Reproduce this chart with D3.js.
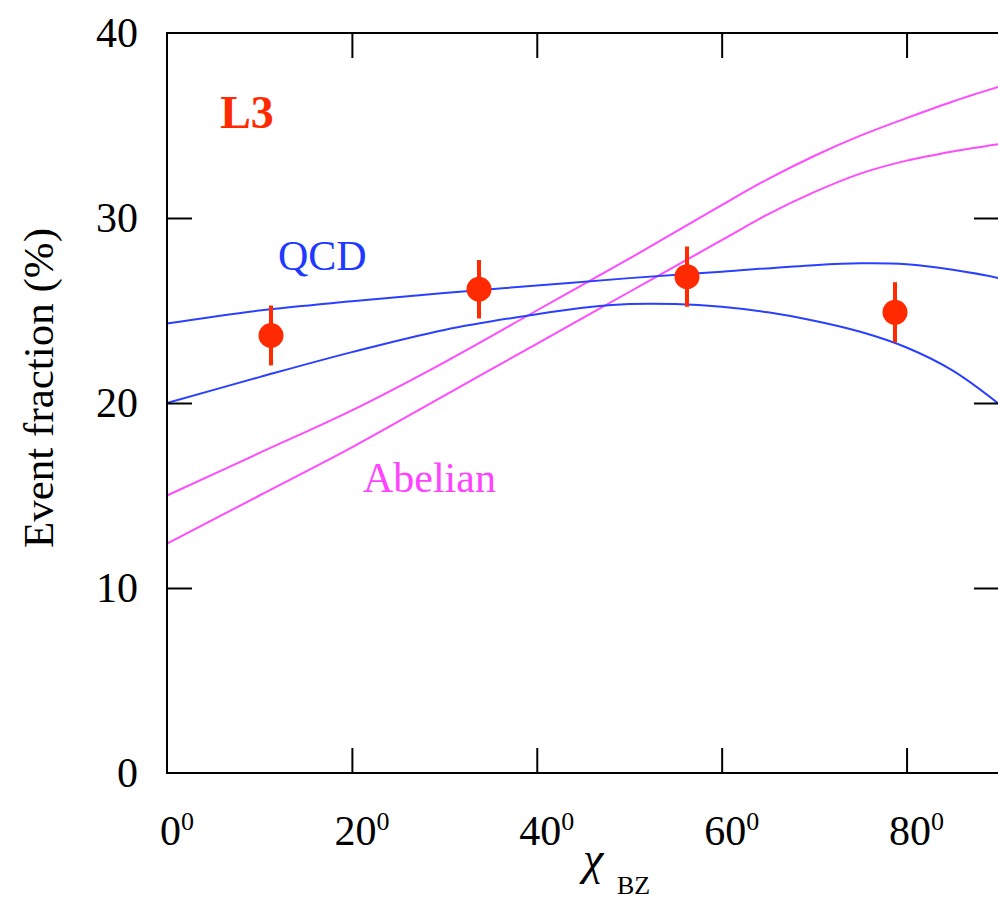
<!DOCTYPE html>
<html>
<head>
<meta charset="utf-8">
<script src="https://cdn.jsdelivr.net/npm/d3@7"></script>
<style>
  html, body { margin: 0; padding: 0; background: #fff; }
  svg { display: block; }
  text { font-family: "Liberation Serif", "Times New Roman", serif; }
</style>
</head>
<body>
<svg id="chart" width="998" height="902"></svg>
<script>
// ---- data ----
const xTicks = [0, 20, 40, 60, 80];
const yTicks = [0, 10, 20, 30, 40];

const dataX   = [11.25, 33.75, 56.25, 78.75];
const dataY   = [23.65, 26.15, 26.83, 24.9];
const dataErr = [1.62, 1.58, 1.63, 1.63];

const qcdUpperX = [0, 10, 20, 30, 40, 50, 60, 70, 75, 80, 85, 90];
const qcdUpperY = [24.3, 25.0, 25.5, 25.95, 26.35, 26.75, 27.1, 27.45, 27.55, 27.5, 27.2, 26.75];

const qcdLowerX = [0, 10, 20, 30, 40, 46, 50, 55, 60, 65, 70, 75, 80, 85, 90];
const qcdLowerY = [20.0, 21.4, 22.75, 23.95, 24.8, 25.2, 25.35, 25.35, 25.2, 24.9, 24.45, 23.85, 23.0, 21.75, 19.95];

const abelUpperX = [0, 10, 20, 30, 40, 50, 60, 65, 70, 75, 80, 85, 90];
const abelUpperY = [15.0, 17.3, 19.6, 22.2, 25.0, 27.8, 30.7, 32.1, 33.35, 34.45, 35.4, 36.3, 37.1];

const abelLowerX = [0, 10, 20, 30, 40, 50, 60, 65, 70, 75, 80, 85, 90];
const abelLowerY = [12.4, 15.0, 17.6, 20.4, 23.2, 26.0, 28.8, 30.2, 31.4, 32.4, 33.1, 33.6, 34.0];

const labels = [
  { text: "L3",      x: 5.75,  y: 34.85, color: "#ff2a00", bold: true,  size: 46 },
  { text: "QCD",     x: 12.0,  y: 27.2,  color: "#2038ff", bold: false, size: 42 },
  { text: "Abelian", x: 21.2,  y: 15.2,  color: "#ff44ff", bold: false, size: 42 }
];

// ---- layout ----
const svg = d3.select("#chart");
const mLeft = 167, mRight = 999, mTop = 33, mBottom = 773;

const x = d3.scaleLinear().domain([0, 90]).range([mLeft, mRight]);
const y = d3.scaleLinear().domain([0, 40]).range([mBottom, mTop]);

// curves
const line = d3.line().x(d => x(d[0])).y(d => y(d[1])).curve(d3.curveCatmullRom.alpha(0.5));
const curves = [
  { xs: abelUpperX, ys: abelUpperY, color: "#ff4cff" },
  { xs: abelLowerX, ys: abelLowerY, color: "#ff4cff" },
  { xs: qcdUpperX,  ys: qcdUpperY,  color: "#2a40ff" },
  { xs: qcdLowerX,  ys: qcdLowerY,  color: "#2a40ff" }
];
curves.forEach(c => {
  svg.append("path")
    .datum(c.xs.map((v, i) => [v, c.ys[i]]))
    .attr("d", line)
    .attr("fill", "none")
    .attr("stroke", c.color)
    .attr("stroke-width", 2);
});

// data points with error bars
const pts = dataX.map((v, i) => ({ x: v, y: dataY[i], e: dataErr[i] }));
const g = svg.append("g");
g.selectAll("line.err").data(pts).enter().append("line")
  .attr("x1", d => x(d.x)).attr("x2", d => x(d.x))
  .attr("y1", d => y(d.y - d.e)).attr("y2", d => y(d.y + d.e))
  .attr("stroke", "#ff2a00").attr("stroke-width", 4);
g.selectAll("circle").data(pts).enter().append("circle")
  .attr("cx", d => x(d.x)).attr("cy", d => y(d.y)).attr("r", 12.5)
  .attr("fill", "#ff2a00");

// axes (inward ticks)
const axB = svg.append("g").attr("transform", `translate(0,${mBottom})`)
  .call(d3.axisBottom(x).tickValues(xTicks.slice(1)).tickSizeInner(-25).tickSizeOuter(0).tickFormat(""));
const axT = svg.append("g").attr("transform", `translate(0,${mTop})`)
  .call(d3.axisTop(x).tickValues(xTicks.slice(1)).tickSizeInner(-25).tickSizeOuter(0).tickFormat(""));
const axL = svg.append("g").attr("transform", `translate(${mLeft},0)`)
  .call(d3.axisLeft(y).tickValues(yTicks).tickSizeInner(-25).tickSizeOuter(0).tickPadding(29));
const axR = svg.append("g").attr("transform", `translate(${mRight},0)`)
  .call(d3.axisRight(y).tickValues(yTicks.slice(1, 4)).tickSizeInner(-25).tickSizeOuter(0).tickFormat(""));

[axB, axT, axL, axR].forEach(a => {
  a.select(".domain").remove();
  a.selectAll(".tick line").attr("stroke", "#000").attr("stroke-width", 2);
});
axL.selectAll(".tick line").filter(d => d === 0 || d === 40).remove();
axL.selectAll(".tick text")
  .attr("font-family", "Liberation Serif, Times New Roman, serif")
  .attr("font-size", 42).attr("fill", "#000");

// frame
svg.append("rect")
  .attr("x", mLeft).attr("y", mTop)
  .attr("width", mRight - mLeft).attr("height", mBottom - mTop)
  .attr("fill", "none").attr("stroke", "#000").attr("stroke-width", 2);

// x tick labels with superscript
const xl = svg.append("g");
xTicks.forEach(t => {
  const tx = xl.append("text")
    .attr("x", x(t) + 10).attr("y", 845)
    .attr("text-anchor", "middle")
    .attr("font-size", 42).attr("fill", "#000");
  tx.append("tspan").text(String(t));
  tx.append("tspan").attr("font-size", 26).attr("dy", -15).text("0");
});

// x axis title
svg.append("text")
  .attr("x", 583).attr("y", 874)
  .attr("font-size", 46).attr("font-style", "italic").attr("fill", "#000")
  .text("χ");
svg.append("text")
  .attr("x", 617).attr("y", 894)
  .attr("font-size", 26).attr("fill", "#000")
  .text("BZ");

// y axis title
svg.append("text")
  .attr("transform", "translate(53,388) rotate(-90)")
  .attr("text-anchor", "middle")
  .attr("font-size", 43).attr("fill", "#000")
  .text("Event fraction (%)");

// annotations
labels.forEach(l => {
  svg.append("text")
    .attr("x", x(l.x)).attr("y", y(l.y))
    .attr("font-size", l.size)
    .attr("font-weight", l.bold ? "bold" : "normal")
    .attr("fill", l.color)
    .text(l.text);
});
</script>
</body>
</html>
